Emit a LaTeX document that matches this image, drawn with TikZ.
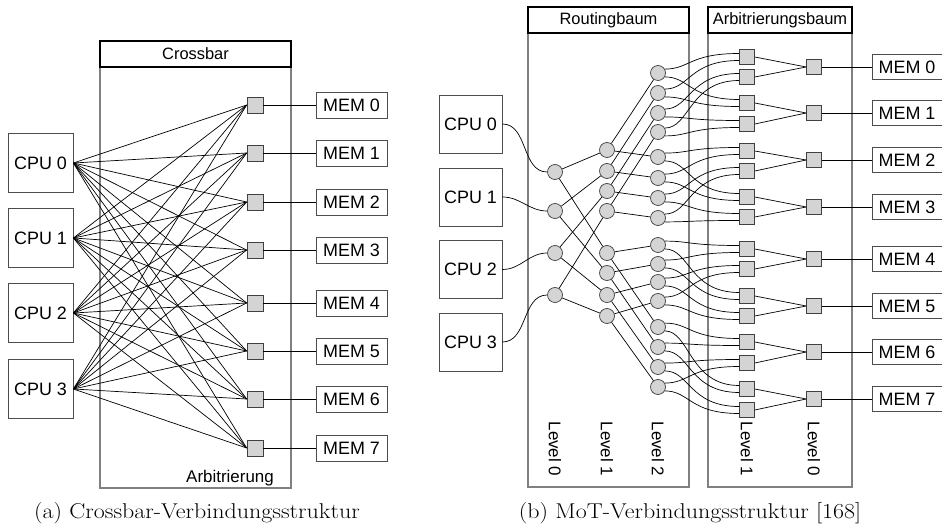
\documentclass[tikz,border=0pt]{standalone}
\usepackage{fontspec}
\setsansfont{Liberation Sans}
\newfontfamily\capfont[FakeStretch=1.12]{Latin Modern Roman}
\usetikzlibrary{calc}
\tikzset{
  unit/.style={draw=black!70, line width=0.8bp, inner sep=0pt,
    font=\sffamily\fontsize{18}{20}\selectfont},
  cpubox/.style={unit, minimum width=64bp, minimum height=58bp},
  membox/.style={unit, minimum width=70bp, minimum height=25bp},
  frame/.style={draw=black!50, line width=1.3bp},
  titlebox/.style={draw=black, line width=1.3bp, fill=white, inner sep=0pt,
    minimum height=26bp, font=\sffamily\fontsize{16.5}{18}\selectfont},
  sw/.style={draw=black!75, fill=black!17, line width=0.7bp, minimum size=15bp, inner sep=0pt},
  rnode/.style={circle, draw=black!75, fill=black!17, line width=0.7bp, minimum size=15bp, inner sep=0pt},
  wire/.style={draw=black, line width=0.7bp},
  lvl/.style={font=\sffamily\fontsize{17}{18}\selectfont, rotate=-90},
  subcap/.style={font=\capfont\fontsize{21.5}{24}\selectfont}
}
\begin{document}
\begin{tikzpicture}[x=1bp,y=-1bp]
\useasboundingbox (0,0) rectangle (942,527);

% ---------------- (a) crossbar ----------------
\draw[frame] (100,67) rectangle (291,488);
\node[titlebox, minimum width=191bp] (xbtitle) at (195.5,54) {Crossbar};
\node[font=\sffamily\fontsize{17}{18}\selectfont] (xbarb) at (230,478) {Arbitrierung};

\foreach \y [count=\i from 0] in {163,238,313,389}
  \node[cpubox, minimum width=65bp, minimum height=59bp] (xcpu\i) at (40.5,\y) {CPU \i};
\foreach \y [count=\i from 0] in {105,153,202,250,303,351,399,448} {
  \node[sw, minimum size=16bp] (xsq\i) at (255,\y) {};
  \node[membox, minimum width=71bp, minimum height=26bp] (xmem\i) at (351.5,\y) {MEM \i};
  \draw[wire] (xsq\i.east) -- (xmem\i.west);
}
\foreach \c in {0,...,3}
  \foreach \s in {0,...,7}
    \draw[wire] (xcpu\c.east) -- (xsq\s.west);

\node[subcap] (capa) at (197,513) {(a) Crossbar-Verbindungsstruktur};

% ---------------- (b) mesh of trees ----------------
\draw[frame] (528,33) rectangle (689,487);
\draw[frame] (708,33) rectangle (852,487);
\node[titlebox, minimum width=161bp] (rtitle) at (608.5,20) {Routingbaum};
\node[titlebox, minimum width=144bp] (atitle) at (780,20) {Arbitrierungsbaum};

\foreach \y [count=\i from 0] in {124,197,269.5,342}
  \node[cpubox, minimum width=63bp] (mcpu\i) at (470.5,\y) {CPU \i};

% routing tree, levels 0..2
\foreach \y [count=\i from 0] in {172,211,253,295}
  \node[rnode] (ra\i) at (555,\y) {};
\foreach \y [count=\i from 0] in {150,171,191,211,253,273,295,316}
  \node[rnode] (rb\i) at (607,\y) {};
\foreach \y [count=\i from 0] in {73,93,113,132,157,178,198,218,245,264,282,301,327,347,367,387}
  \node[rnode] (rc\i) at (658,\y) {};

% arbitration tree, levels 1 and 0
\foreach \y [count=\i from 0] in {57,77,103,124,151,171,197,217,249,269,296,316,342,363,389,410}
  \node[sw] (aa\i) at (747,\y) {};
\foreach \y [count=\i from 0] in {67,113,160,207,259,306,352,399} {
  \node[sw] (ab\i) at (814,\y) {};
  \node[membox] (mmem\i) at (907,\y) {MEM \i};
  \draw[wire] (ab\i.east) -- (mmem\i.west);
}

% level captions
\foreach \x/\t [count=\i] in {555/Level 0,607/Level 1,658/Level 2,747/Level 1,814/Level 0}
  \node[lvl] (lv\i) at (\x,449) {\t};

% CPU to routing roots
\foreach \j in {0,...,3}
  \draw[wire] (mcpu\j.east) to[out=0,in=180] (ra\j.west);

% routing tree edges
\foreach \j in {0,...,3} {
  \pgfmathtruncatemacro{\lo}{\j+4}
  \pgfmathtruncatemacro{\ca}{\j+4}
  \pgfmathtruncatemacro{\cb}{\j+8}
  \pgfmathtruncatemacro{\cc}{\j+12}
  \draw[wire] (ra\j) -- (rb\j);
  \draw[wire] (ra\j) -- (rb\lo);
  \draw[wire] (rb\j) -- (rc\j);
  \draw[wire] (rb\j) -- (rc\ca);
  \draw[wire] (rb\lo) -- (rc\cb);
  \draw[wire] (rb\lo) -- (rc\cc);
}

% routing leaves to arbitration leaves
\foreach \m in {0,...,3}
  \foreach \j in {0,...,3} {
    \pgfmathtruncatemacro{\c}{4*\m+\j}
    \pgfmathtruncatemacro{\sa}{4*\m+floor(\j/2)}
    \pgfmathtruncatemacro{\sb}{4*\m+2+floor(\j/2)}
    \pgfmathsetmacro{\off}{ifthenelse(mod(\j,2)==0,3.5,-3.5)}
    \draw[wire] (rc\c.30) .. controls +(25,0) and +(-50,0) .. ([yshift=\off bp]aa\sa.west);
    \draw[wire] (rc\c.-30) .. controls +(25,0) and +(-50,0) .. ([yshift=\off bp]aa\sb.west);
  }

% arbitration level 1 to level 0
\foreach \k in {0,...,7} {
  \pgfmathtruncatemacro{\p}{2*\k}
  \pgfmathtruncatemacro{\q}{2*\k+1}
  \draw[wire] (aa\p.east) -- (ab\k.west);
  \draw[wire] (aa\q.east) -- (ab\k.west);
}

\node[subcap] (capb) at (690,513) {(b) MoT-Verbindungsstruktur [168]};
\end{tikzpicture}
\end{document}
